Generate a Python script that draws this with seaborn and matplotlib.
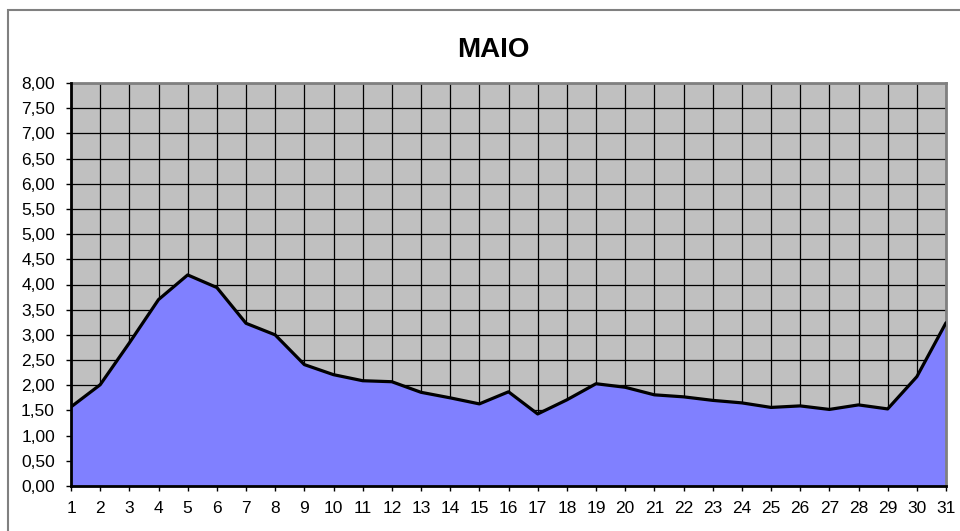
import matplotlib
matplotlib.use('Agg')
import matplotlib.pyplot as plt
import matplotlib.patches as mpatches
from matplotlib.ticker import FuncFormatter, MultipleLocator
import pandas as pd
import seaborn as sns

# data
days = list(range(1, 32))
values = [1.57, 2.01, 2.84, 3.70, 4.19, 3.94, 3.23, 3.00, 2.41, 2.21,
          2.09, 2.07, 1.86, 1.75, 1.63, 1.87, 1.43, 1.71, 2.03, 1.96,
          1.81, 1.77, 1.70, 1.65, 1.56, 1.59, 1.52, 1.61, 1.53, 2.17, 3.24]
title = 'MAIO'

df = pd.DataFrame({'dia': days, 'valor': values})

sns.set_style('white')
plt.rcParams['font.family'] = ['Liberation Sans', 'DejaVu Sans']
plt.rcParams['text.color'] = 'black'
plt.rcParams['xtick.color'] = 'black'
plt.rcParams['ytick.color'] = 'black'

fig = plt.figure(figsize=(9.6, 5.31), dpi=100)
ax = fig.add_axes([71 / 960, 45 / 531, 875 / 960, 403 / 531])
ax.set_facecolor('#C0C0C0')

# area + outline
ax.fill_between(df['dia'], df['valor'], 0, color='#8080FF', zorder=2)
sns.lineplot(data=df, x='dia', y='valor', color='black', linewidth=2.3, ax=ax, zorder=3)

ax.set_xlim(1, 31)
ax.set_ylim(0, 8)
ax.set_xticks(days)
ax.yaxis.set_major_locator(MultipleLocator(0.5))
ax.yaxis.set_major_formatter(FuncFormatter(lambda v, p: f'{v:.2f}'.replace('.', ',')))
ax.grid(True, color='black', linewidth=0.9, zorder=1)
ax.set_axisbelow(True)

ax.tick_params(axis='both', direction='out', length=3.6, width=1, color='black',
               labelsize=12.5, left=True, bottom=True)
ax.tick_params(axis='y', pad=8)
ax.tick_params(axis='x', pad=7)
ax.set_xlabel('')
ax.set_ylabel('')

for side in ['left', 'bottom']:
    ax.spines[side].set_color('black')
    ax.spines[side].set_linewidth(2)
    ax.spines[side].set_zorder(4)
for side in ['top', 'right']:
    ax.spines[side].set_color('#808080')
    ax.spines[side].set_linewidth(2)

fig.text(493 / 960, 1 - 50 / 531, title, ha='center', va='center',
         fontsize=20, fontweight='bold')

# outer chart frame
fig.patches.append(mpatches.Rectangle((8 / 960, -0.1), 1.0, 1 - 10 / 531 + 0.1,
                                      transform=fig.transFigure, fill=False,
                                      edgecolor='#808080', linewidth=1.5))

fig.savefig('out.png', dpi=100)
